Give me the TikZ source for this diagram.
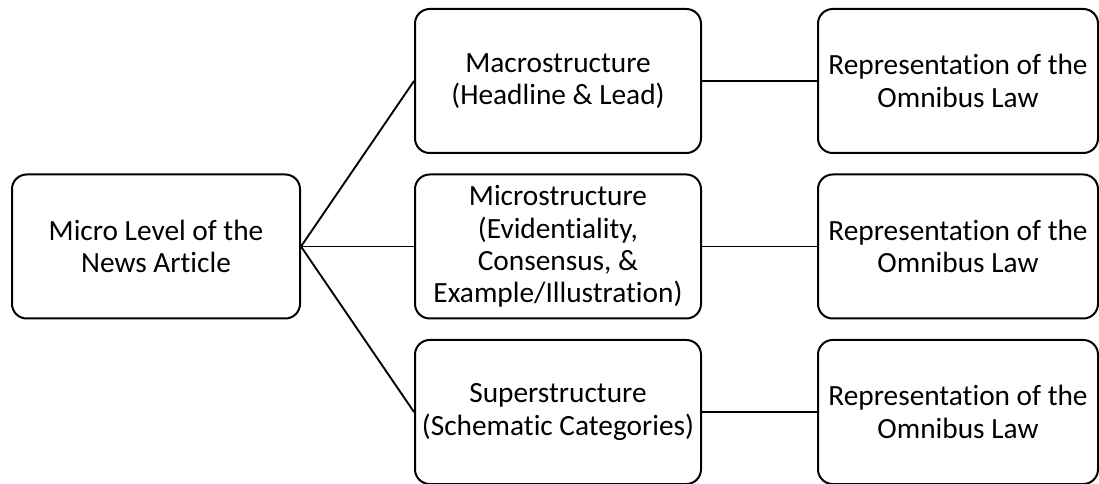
\documentclass[tikz,border=0pt]{standalone}
\usepackage{fontspec}
\setmainfont{Carlito}[Ligatures=NoCommon]
\usetikzlibrary{positioning}

\tikzset{
	levelbox/.style={draw, line width=1.5pt, rounded corners=11pt, align=center,
		inner sep=0pt, minimum height=108pt,
		font=\fontsize{22}{24.3}\selectfont},
	link/.style={line width=1.4pt}
}

\begin{document}
\begin{tikzpicture}[x=0.75pt, y=-0.75pt]
		\useasboundingbox (0,0) rectangle (1099,484);
		
		% left box
		\node[levelbox, minimum width=216pt] (micro) at (156,246.5) {Micro Level of the\\News Article};
		
		% three structures
		\node[levelbox, minimum width=214.5pt] (macro) at (558,81) {Macrostructure\\(Headline \& Lead)};
		\node[levelbox, minimum width=214.5pt] (microS) at (558,246.5) {Microstructure\\(Evidentiality,\\Consensus, \&\\Example/Illustration)};
		\node[levelbox, minimum width=214.5pt] (super) at (558,412) {Superstructure\\(Schematic Categories)};
		
		% representations
		\node[levelbox, minimum width=210pt] (rep1) at (958,81) {Representation of the\\Omnibus Law};
		\node[levelbox, minimum width=210pt] (rep2) at (958,246.5) {Representation of the\\Omnibus Law};
		\node[levelbox, minimum width=210pt] (rep3) at (958,412) {Representation of the\\Omnibus Law};
		
		% connectors
		\draw[link] (micro.east) -- (macro.west);
		\draw[link] (micro.east) -- (microS.west);
		\draw[link] (micro.east) -- (super.west);
		\draw[link] (macro.east) -- (rep1.west);
		\draw[link] (microS.east) -- (rep2.west);
		\draw[link] (super.east) -- (rep3.west);
	\end{tikzpicture}
\end{document}
